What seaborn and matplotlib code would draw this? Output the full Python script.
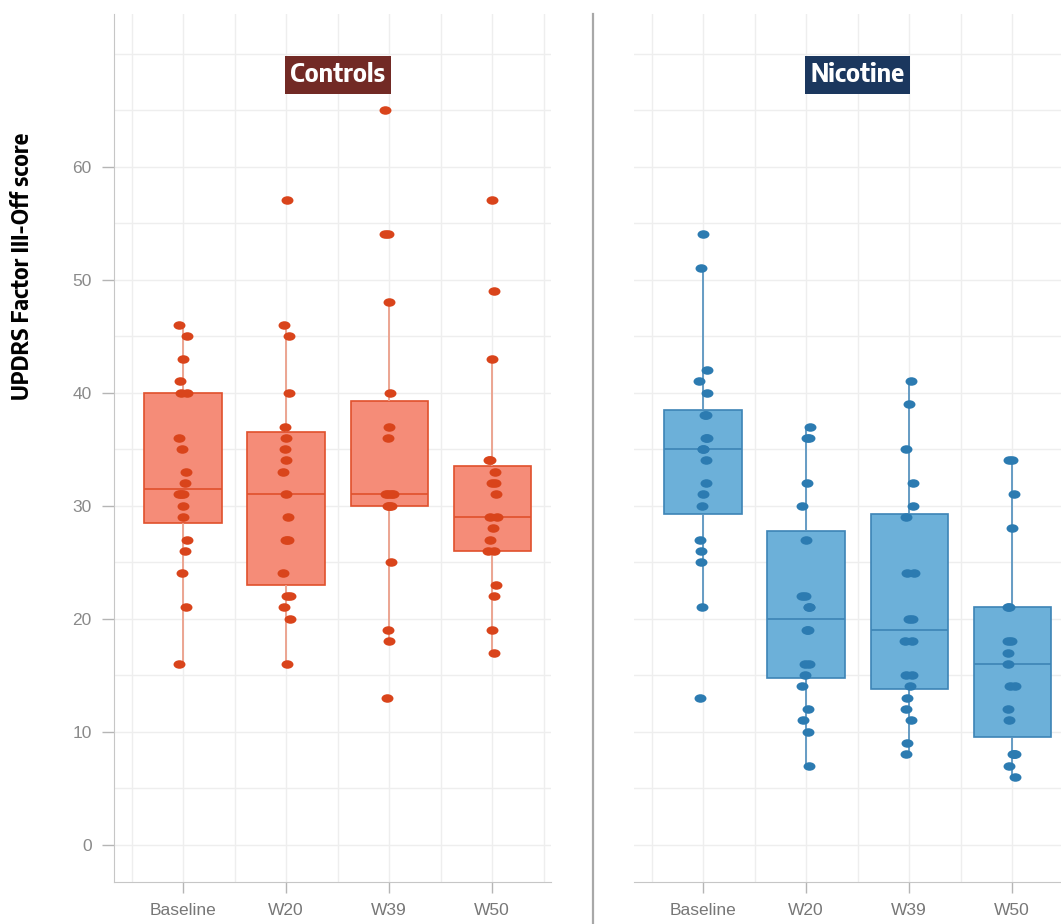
import numpy as np
import pandas as pd
import matplotlib
matplotlib.use("Agg")
import matplotlib.pyplot as plt
from matplotlib import font_manager
from matplotlib.font_manager import FontProperties
from matplotlib.ft2font import FT2Font
from matplotlib.lines import Line2D
from matplotlib.path import Path
from matplotlib.textpath import TextToPath
from matplotlib.transforms import Affine2D
import seaborn as sns

# ---- data -------------------------------------------------------------
visits = ["Baseline", "W20", "W39", "W50"]
groups = ["Controls", "Nicotine"]

controls_baseline = [16, 21, 24, 26, 27, 29, 30, 31, 31, 31, 32, 33, 35, 36, 40, 40, 41, 43, 45, 46]
controls_w20 = [16, 20, 21, 22, 22, 24, 27, 27, 29, 31, 33, 34, 35, 36, 37, 40, 45, 46, 57]
controls_w39 = [13, 18, 19, 25, 30, 30, 30, 31, 31, 31, 31, 36, 37, 40, 48, 54, 54, 65]
controls_w50 = [17, 19, 22, 23, 26, 26, 27, 28, 29, 29, 31, 32, 32, 33, 34, 34, 43, 49, 57]

nicotine_baseline = [13, 21, 25, 26, 27, 30, 31, 32, 34, 35, 35, 36, 36, 38, 38, 40, 41, 42, 51, 54]
nicotine_w20 = [7, 10, 11, 12, 14, 15, 16, 16, 19, 19, 21, 21, 22, 22, 27, 30, 32, 36, 36, 37]
nicotine_w39 = [8, 9, 11, 12, 13, 14, 15, 15, 18, 18, 20, 20, 24, 24, 29, 30, 32, 35, 39, 41]
nicotine_w50 = [6, 7, 8, 8, 8, 11, 12, 14, 14, 16, 17, 18, 18, 21, 21, 28, 31, 34, 34]

y_ticks = [0, 10, 20, 30, 40, 50, 60]
y_label = "UPDRS Factor III-Off score"

DPI = 100
W, H = 1061, 924

# ---- fonts ------------------------------------------------------------
fonts = font_manager.fontManager.ttflist
installed = {f.name for f in fonts}
plain = "Liberation Sans" if "Liberation Sans" in installed else "DejaVu Sans"
heading_chars = set("".join(groups) + y_label) - {" "}
_t2p = TextToPath()


def _weight(f):
    w = f.weight
    if isinstance(w, str):
        w = font_manager.weight_dict.get(w, 400)
    return int(w)


def _covers(fname):
    try:
        cmap = FT2Font(fname).get_charmap()
    except Exception:
        return False
    return all(ord(ch) in cmap for ch in heading_chars)


def _width_px(text, prop):
    w, _, _ = _t2p.get_text_width_height_descent(text, prop, ismath=False)
    return w * DPI / 72.0


def _condensed_bold(target_ratio=4.6):
    """Narrow sans bold face whose proportions for a sample word suit the headings."""
    best, best_err = None, None
    for f in fonts:
        narrow = ("Condensed" in f.name or "Narrow" in f.name
                  or f.stretch in ("condensed", "semi-condensed"))
        if not narrow or "Serif" in f.name or "Mono" in f.name:
            continue
        if f.style != "normal" or not (600 <= _weight(f) <= 800):
            continue
        if not _covers(f.fname):
            continue
        try:
            prop = FontProperties(fname=f.fname, size=20)
            w, h, d = _t2p.get_text_width_height_descent("Controls", prop, ismath=False)
        except Exception:
            continue
        if w <= 0 or h - d <= 0:
            continue
        err = abs(w / (h - d) - target_ratio)
        if best_err is None or err < best_err:
            best, best_err = f.fname, err
    return best


_bold_file = _condensed_bold()


def heading_font(text, width_px):
    """Bold heading font sized so that `text` spans about `width_px` pixels."""
    if _bold_file:
        prop = FontProperties(fname=_bold_file, size=20)
    else:
        prop = FontProperties(family=[plain, "DejaVu Sans"], weight="bold", size=20)
    prop.set_size(20 * width_px / _width_px(text, prop))
    return prop


plt.rcParams["font.family"] = [plain, "DejaVu Sans"]


def long_rows(group, series):
    rows = []
    for visit, values in zip(visits, series):
        rows.extend((group, visit, v) for v in values)
    return rows


df = pd.DataFrame(
    long_rows("Controls", [controls_baseline, controls_w20, controls_w39, controls_w50])
    + long_rows("Nicotine", [nicotine_baseline, nicotine_w20, nicotine_w39, nicotine_w50]),
    columns=["group", "visit", "score"],
)

# ---- style ------------------------------------------------------------
palette = {
    "Controls": dict(fill="#f58c78", edge="#e0502c", whisker="#eb9f8a",
                     point="#d9441b", title_bg="#722a25"),
    "Nicotine": dict(fill="#6cb0d9", edge="#3d84b6", whisker="#5a95c0",
                     point="#2c7bb1", title_bg="#1b375e"),
}

# horizontally stretched dot
dot = Path.unit_circle().transformed(Affine2D().scale(1.4, 1.0))

np.random.seed(7)

fig = plt.figure(figsize=(W / DPI, H / DPI), dpi=DPI)
axes = {
    "Controls": fig.add_axes([114 / W, 42 / H, 437 / W, 868 / H]),
    "Nicotine": fig.add_axes([634 / W, 42 / H, 437 / W, 868 / H]),
}

grid_color = "#eeeeee"
spine_color = "#c6c6c6"
title_font = heading_font("Controls", 95)

for group in groups:
    ax = axes[group]
    c = palette[group]
    sub = df[df["group"] == group]

    sns.boxplot(
        data=sub, x="visit", y="score", order=visits, ax=ax,
        width=0.75, saturation=1, showcaps=False, showfliers=False,
        boxprops=dict(facecolor=c["fill"], edgecolor=c["edge"], linewidth=1.2),
        whiskerprops=dict(color=c["whisker"], linewidth=1.3),
        medianprops=dict(color=c["edge"], linewidth=1.2),
    )
    sns.stripplot(
        data=sub, x="visit", y="score", order=visits, ax=ax,
        color=c["point"], jitter=0.045, size=8.6, marker=dot,
        linewidth=0, zorder=4,
    )

    ax.set_xlim(-0.67, 3.57)
    ax.set_ylim(-3.3, 73.5)
    ax.set_xlabel("")
    ax.set_ylabel("")

    ax.set_xticks(range(len(visits)))
    ax.set_xticklabels(visits)
    ax.set_xticks(np.arange(-0.5, len(visits), 1.0), minor=True)
    ax.set_yticks(y_ticks)
    ax.set_yticks(np.arange(5, 75, 5), minor=True)

    ax.set_axisbelow(True)
    ax.grid(which="both", color=grid_color, linewidth=1.0)
    ax.tick_params(which="minor", length=0)
    ax.tick_params(axis="x", which="major", length=8, width=1, color="#b5b5b5",
                   labelcolor="#777777", labelsize=12.5, pad=7)
    ax.tick_params(axis="y", which="major", length=9, width=1, color="#b5b5b5",
                   labelcolor="#8a8a8a", labelsize=12.5, pad=7)

    for side in ("top", "right"):
        ax.spines[side].set_visible(False)
    ax.spines["bottom"].set_color(spine_color)
    ax.spines["left"].set_color(spine_color)

    ax.text(1.5, 68.1, group, ha="center", va="center", color="white",
            fontproperties=title_font,
            bbox=dict(boxstyle="square,pad=0.22", facecolor=c["title_bg"],
                      edgecolor="none"), zorder=6)

right = axes["Nicotine"]
right.spines["left"].set_visible(False)
right.tick_params(axis="y", which="both", left=False, labelleft=False)

# panel separator
fig.add_artist(Line2D([592.5 / W, 592.5 / W], [0, 910 / H],
                      transform=fig.transFigure, color="#a8a8a8", linewidth=1.6))

label_font = heading_font(y_label, 267)
fig.text(22 / W, (H - 266) / H, y_label, rotation=90, ha="center", va="center",
         color="black", fontproperties=label_font)

fig.savefig("out.png", dpi=DPI, facecolor="white")
